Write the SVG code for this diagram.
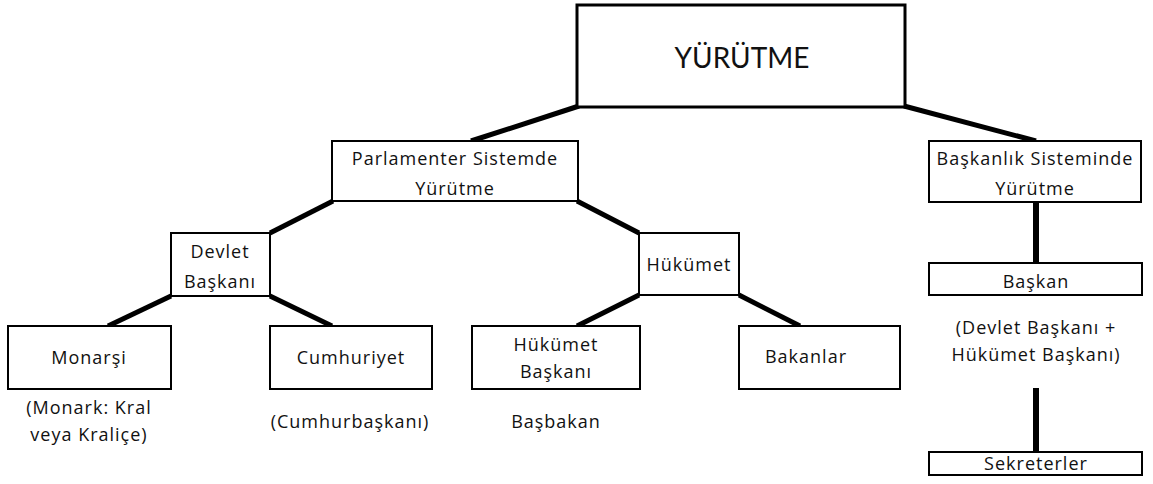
<svg xmlns="http://www.w3.org/2000/svg" width="1153" height="484" viewBox="0 0 1153 484">
  <style>
    .box { fill: #ffffff; stroke: #000000; stroke-width: 2; }
    .big { fill: #ffffff; stroke: #000000; stroke-width: 3; }
    .link { stroke: #000000; stroke-width: 5; fill: none; }
    .vlink { stroke: #000000; stroke-width: 6; fill: none; }
    text { font-family: "Open Sans", "Noto Sans", sans-serif; font-size: 18px; letter-spacing: 1px; fill: #111111; text-anchor: middle; }
    .title { font-family: Lato, "Open Sans", sans-serif; font-size: 28px; letter-spacing: 0; }
  </style>
  <rect width="1153" height="484" fill="#ffffff"/>

  <g id="connectors">
    <line class="link" x1="471" y1="141" x2="579" y2="106"/>
    <line class="link" x1="904" y1="106" x2="1036" y2="141"/>
    <line class="link" x1="270" y1="233" x2="333" y2="201"/>
    <line class="link" x1="639" y1="233" x2="577" y2="201"/>
    <line class="link" x1="171" y1="296" x2="108" y2="326"/>
    <line class="link" x1="270" y1="296" x2="332" y2="326"/>
    <line class="link" x1="639" y1="295" x2="577" y2="326"/>
    <line class="link" x1="739" y1="295" x2="800" y2="326"/>
    <line class="vlink" x1="1036" y1="202" x2="1036" y2="263"/>
    <line class="vlink" x1="1036" y1="388" x2="1036" y2="452"/>
  </g>

  <g id="yurutme">
    <rect class="big" x="577" y="5" width="328" height="102"/>
    <text class="title" x="742" y="68">YÜRÜTME</text>
  </g>

  <g id="parlamenter">
    <rect class="box" x="332" y="141" width="246" height="60"/>
    <text x="455" y="165">Parlamenter Sistemde</text>
    <text x="455" y="195">Yürütme</text>
  </g>

  <g id="baskanlik">
    <rect class="box" x="929" y="141" width="212" height="61"/>
    <text x="1035" y="165">Başkanlık Sisteminde</text>
    <text x="1035" y="195">Yürütme</text>
  </g>

  <g id="devlet-baskani">
    <rect class="box" x="171" y="233" width="99" height="63"/>
    <text x="220" y="258">Devlet</text>
    <text x="220" y="288">Başkanı</text>
  </g>

  <g id="hukumet">
    <rect class="box" x="639" y="233" width="100" height="62"/>
    <text x="689" y="271">Hükümet</text>
  </g>

  <g id="monarsi">
    <rect class="box" x="8" y="326" width="163" height="63"/>
    <text x="89" y="364">Monarşi</text>
    <text x="89" y="414">(Monark: Kral</text>
    <text x="89" y="441">veya Kraliçe)</text>
  </g>

  <g id="cumhuriyet">
    <rect class="box" x="270" y="326" width="162" height="63"/>
    <text x="351" y="364">Cumhuriyet</text>
    <text x="350" y="428">(Cumhurbaşkanı)</text>
  </g>

  <g id="hukumet-baskani">
    <rect class="box" x="472" y="326" width="168" height="63"/>
    <text x="556" y="351">Hükümet</text>
    <text x="556" y="378">Başkanı</text>
    <text x="556" y="428">Başbakan</text>
  </g>

  <g id="bakanlar">
    <rect class="box" x="739" y="326" width="161" height="63"/>
    <text x="806" y="363">Bakanlar</text>
  </g>

  <g id="baskan">
    <rect class="box" x="929" y="263" width="213" height="32"/>
    <text x="1036" y="288">Başkan</text>
    <text x="1036" y="334">(Devlet Başkanı +</text>
    <text x="1036" y="361">Hükümet Başkanı)</text>
  </g>

  <g id="sekreterler">
    <rect class="box" x="929" y="452" width="213" height="23"/>
    <text x="1036" y="470">Sekreterler</text>
  </g>
</svg>
